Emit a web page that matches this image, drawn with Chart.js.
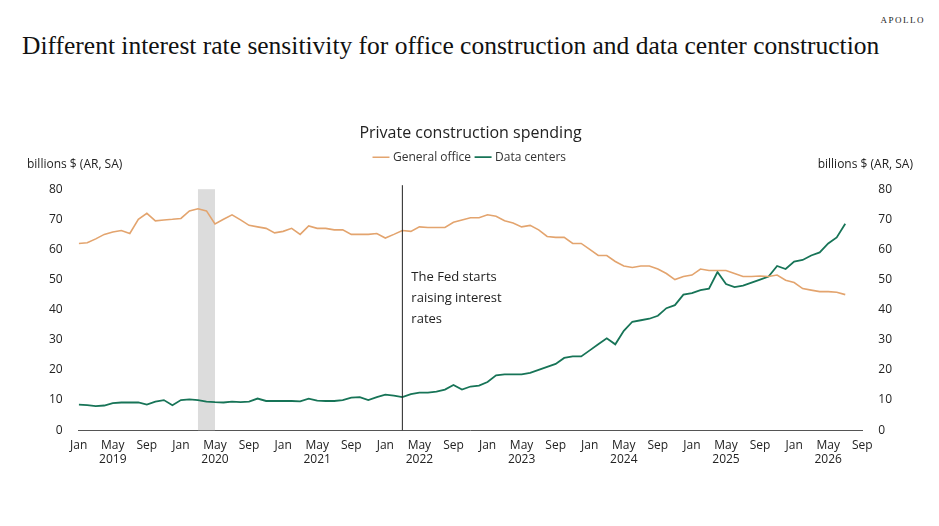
<!DOCTYPE html>
<html>
<head>
<meta charset="utf-8">
<script src="https://cdn.jsdelivr.net/npm/chart.js@4.4.1/dist/chart.umd.min.js"></script>
<style>
  html, body { margin: 0; padding: 0; background: #fff; }
  #wrap { position: relative; width: 939px; height: 526px; }
  #headline { position: absolute; left: 22px; top: 31px; font-family: "Liberation Serif", "DejaVu Serif", serif; font-size: 25.5px; color: #111; white-space: nowrap; }
  #brand { position: absolute; right: 14px; top: 15px; font-family: "Liberation Serif", serif; font-size: 9px; letter-spacing: 1.5px; color: #222; }
  #c { position: absolute; left: 0; top: 0; }
</style>
</head>
<body>
<div id="wrap">
  <div id="headline">Different interest rate sensitivity for office construction and data center construction</div>
  <div id="brand">APOLLO</div>
  <canvas id="c" width="939" height="526"></canvas>
</div>
<script>
// monthly, Jan 2019 = index 0
const officeValues = [62, 62.2, 63.5, 65, 65.8, 66.3, 65.3, 70, 72, 69.5, 69.8, 70,
    70.3, 72.8, 73.5, 72.8, 68.5, 70, 71.5, 69.8, 68, 67.5, 67, 65.5,
    66, 67, 65, 67.8, 67, 67, 66.5, 66.5, 65, 65, 65, 65.3,
    63.8, 65, 66.3, 66, 67.5, 67.3, 67.3, 67.3, 69, 69.8, 70.5, 70.5,
    71.5, 71, 69.5, 68.8, 67.5, 68, 66.5, 64.3, 64, 64, 62, 62,
    60, 58, 58, 56, 54.5, 54, 54.5, 54.5, 53.5, 52, 50, 51,
    51.5, 53.5, 53, 53, 53, 52, 51, 51, 51.2, 51, 51.5, 49.8,
    49, 47, 46.5, 46, 46, 45.8, 45];
const dataCenterValues = [8.5, 8.3, 8, 8.2, 9, 9.2, 9.2, 9.2, 8.5, 9.5, 10, 8.3,
    10, 10.2, 10, 9.5, 9.3, 9.2, 9.5, 9.3, 9.5, 10.5, 9.7, 9.7,
    9.7, 9.7, 9.6, 10.5, 9.8, 9.7, 9.7, 10, 10.8, 11, 10, 11,
    11.8, 11.5, 11, 12, 12.5, 12.5, 12.8, 13.5, 15, 13.5, 14.5, 14.8,
    16, 18.2, 18.5, 18.5, 18.5, 19, 20, 21, 22, 24, 24.5, 24.5,
    26.5, 28.5, 30.5, 28.5, 33, 36, 36.5, 37, 38, 40.5, 41.5, 45,
    45.5, 46.5, 47, 52.5, 48.5, 47.5, 48, 49, 50, 51, 54.5, 53.5,
    56, 56.5, 58, 59, 62, 64, 68.5];
const monthNames = ['Jan', 'May', 'Sep'];
const years = [2019, 2020, 2021, 2022, 2023, 2024, 2025, 2026];
const recession = [14, 16];   // Mar 2020 - May 2020
const fedStart = 38;          // Mar 2022

const orange = '#E3A46E';
const green = '#177457';
const font = '"Open Sans", "Noto Sans", sans-serif';

const legendGap = {
    id: 'legendGap',
    beforeInit(chart) {
        const fit = chart.legend.fit;
        chart.legend.fit = function () {
            fit.bind(chart.legend)();
            this.height += 16;
        };
    }
};

const annotations = {
    id: 'annotations',
    beforeDatasetsDraw(chart) {
        const { ctx, chartArea, scales: { x } } = chart;
        ctx.save();
        ctx.fillStyle = '#dcdcdc';
        ctx.fillRect(x.getPixelForValue(recession[0]), chartArea.top,
            x.getPixelForValue(recession[1]) - x.getPixelForValue(recession[0]), chartArea.bottom - chartArea.top);
        ctx.restore();
    },
    afterDatasetsDraw(chart) {
        const { ctx, chartArea, scales: { x } } = chart;
        const fx = x.getPixelForValue(fedStart);
        ctx.save();
        ctx.strokeStyle = '#222';
        ctx.lineWidth = 1;
        ctx.beginPath();
        ctx.moveTo(fx, chartArea.top - 4);
        ctx.lineTo(fx, chartArea.bottom);
        ctx.stroke();
        ctx.fillStyle = '#222';
        ctx.font = '13px ' + font;
        ctx.textBaseline = 'middle';
        ['The Fed starts', 'raising interest', 'rates'].forEach((t, i) => ctx.fillText(t, fx + 9, 277 + i * 21));
        ctx.font = '12px ' + font;
        ctx.fillText('billions $ (AR, SA)', 27, 165);
        ctx.textAlign = 'right';
        ctx.fillText('billions $ (AR, SA)', 913, 165);
        ctx.restore();
    }
};

new Chart(document.getElementById('c'), {
    type: 'line',
    data: {
        datasets: [{
            label: 'General office',
            data: officeValues.map((v, i) => ({ x: i, y: v })),
            borderColor: orange,
            backgroundColor: orange,
            borderWidth: 1.6,
            pointRadius: 0,
            yAxisID: 'y'
        }, {
            label: 'Data centers',
            data: dataCenterValues.map((v, i) => ({ x: i, y: v })),
            borderColor: green,
            backgroundColor: green,
            borderWidth: 1.8,
            pointRadius: 0,
            yAxisID: 'y'
        }]
    },
    options: {
        responsive: false,
        animation: false,
        layout: { padding: { top: 124, left: 41, right: 39, bottom: 56 } },
        plugins: {
            title: {
                display: true,
                text: 'Private construction spending',
                color: '#222',
                font: { family: font, size: 16, weight: 'normal' },
                padding: { top: 0, bottom: 2 }
            },
            legend: {
                labels: {
                    usePointStyle: true,
                    pointStyle: 'line',
                    boxWidth: 14,
                    color: '#333',
                    font: { family: font, size: 12 },
                    padding: 6
                }
            },
            tooltip: { enabled: false }
        },
        scales: {
            x: {
                type: 'linear',
                min: 0,
                max: 92,
                grid: { display: false, drawOnChartArea: false, drawTicks: true, tickLength: 5, color: '#555' },
                border: { display: true, color: '#555' },
                ticks: {
                    stepSize: 4,
                    autoSkip: false,
                    maxRotation: 0,
                    color: '#222',
                    font: { family: font, size: 12 },
                    callback: function (v) {
                        const name = monthNames[(v / 4) % 3];
                        const yr = years[Math.floor(v / 12)];
                        return name === 'May' && yr ? [name, String(yr)] : [name, ''];
                    }
                }
            },
            y: {
                min: 0, max: 80,
                grid: { display: false },
                border: { display: false },
                ticks: { stepSize: 10, color: '#222', font: { family: font, size: 12 }, padding: 8 }
            },
            y2: {
                position: 'right',
                min: 0, max: 80,
                grid: { display: false },
                border: { display: false },
                ticks: { stepSize: 10, color: '#222', font: { family: font, size: 12 }, padding: 8 }
            }
        }
    },
    plugins: [annotations, legendGap]
});
</script>
</body>
</html>
